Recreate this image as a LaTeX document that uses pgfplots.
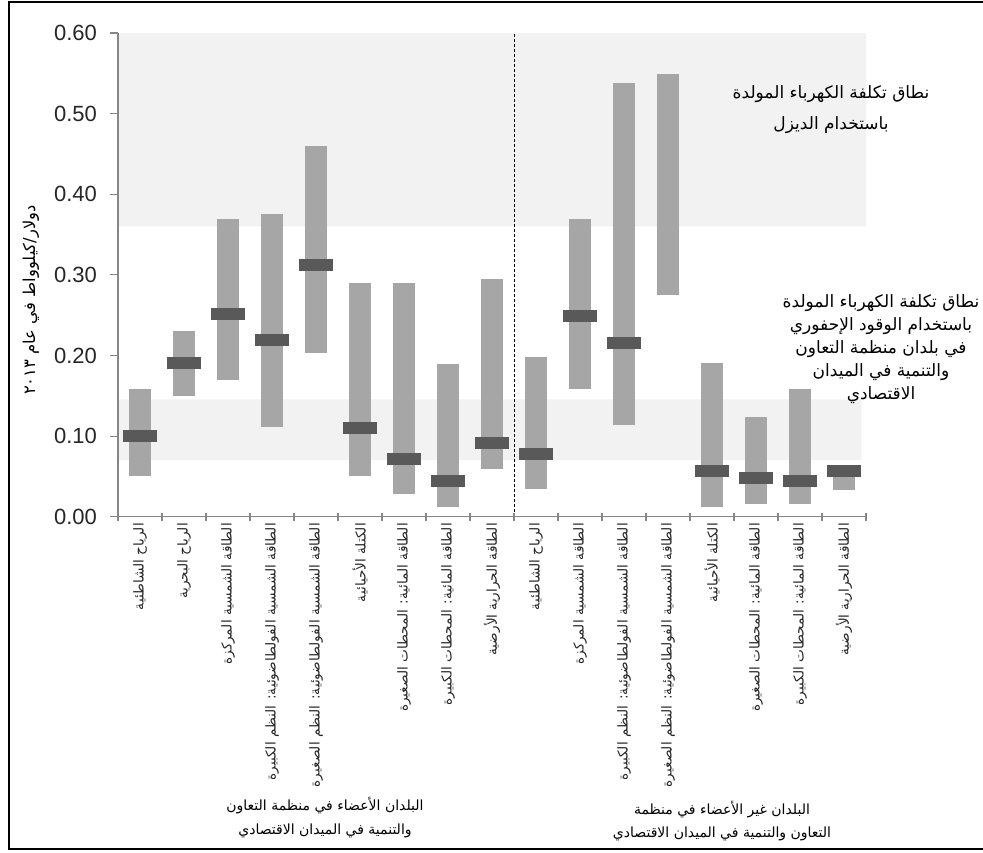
\documentclass[border=0pt]{standalone}
\usepackage{fontspec}
\usepackage{pgfplots}
\pgfplotsset{compat=1.18}
\setmainfont{Liberation Sans}
\newfontfamily\arabicfont[Script=Arabic]{DejaVu Sans}
\TeXXeTstate=1
\definecolor{barGray}{HTML}{A6A6A6}
\definecolor{markGray}{HTML}{595959}
\definecolor{bandGray}{HTML}{F2F2F2}
\definecolor{axisGray}{HTML}{868686}
\definecolor{textGray}{HTML}{262626}
% rounded bar used for the central estimate
\pgfdeclareplotmark{pill}{%
  \pgfsetcornersarced{\pgfpoint{1.6pt}{1.6pt}}%
  \pgfpathrectanglecorners{\pgfpoint{-8.5pt}{-3pt}}{\pgfpoint{8.5pt}{3pt}}%
  \pgfusepathqfill}
% central estimates (USD/kWh)
\pgfplotstableread{
x mark
0 0.100
1 0.191
2 0.251
3 0.219
4 0.312
5 0.110
6 0.0716
7 0.0443
8 0.092
9 0.078
10 0.249
11 0.215
13 0.0567
14 0.0484
15 0.0443
16 0.0567
}\marks
\begin{document}
\begin{tikzpicture}[x=0.5pt,y=-0.5pt]
\begin{axis}[
  at={(59pt,-258.35pt)}, anchor=south west,
  scale only axis, width=374pt, height=241.85pt,
  xmin=-0.5, xmax=16.5, ymin=0, ymax=0.6,
  axis x line*=bottom, axis y line*=left,
  axis line style={axisGray, line width=0.6pt},
  axis on top,
  tick align=outside, major tick length=4pt,
  tick style={axisGray, line width=0.6pt},
  xtick style={yshift=2pt},
  ytick={0,0.1,0.2,0.3,0.4,0.5,0.6},
  yticklabel style={font=\fontsize{11}{13}\selectfont, text=textGray, xshift=-3pt,
    /pgf/number format/.cd, fixed, fixed zerofill, precision=2, assume math mode=true},
  xtick={-0.5,0.5,1.5,2.5,3.5,4.5,5.5,6.5,7.5,8.5,9.5,10.5,11.5,12.5,13.5,14.5,15.5,16.5},
  x tick label as interval,
  xticklabel style={yshift=2pt, rotate=90, anchor=east, inner sep=1pt, text=textGray,
    font=\arabicfont\fontsize{6.8}{8}\selectfont},
  xticklabels={
    {\beginR الرياح الشاطئية\endR},
    {\beginR الرياح البحرية\endR},
    {\beginR الطاقة الشمسية المركزة\endR},
    {\beginR الطاقة الشمسية الفولطاضوئية: النظم الكبيرة\endR},
    {\beginR الطاقة الشمسية الفولطاضوئية: النظم الصغيرة\endR},
    {\beginR الكتلة الأحيائية\endR},
    {\beginR الطاقة المائية: المحطات الصغيرة\endR},
    {\beginR الطاقة المائية: المحطات الكبيرة\endR},
    {\beginR الطاقة الحرارية الأرضية\endR},
    {\beginR الرياح الشاطئية\endR},
    {\beginR الطاقة الشمسية المركزة\endR},
    {\beginR الطاقة الشمسية الفولطاضوئية: النظم الكبيرة\endR},
    {\beginR الطاقة الشمسية الفولطاضوئية: النظم الصغيرة\endR},
    {\beginR الكتلة الأحيائية\endR},
    {\beginR الطاقة المائية: المحطات الصغيرة\endR},
    {\beginR الطاقة المائية: المحطات الكبيرة\endR},
    {\beginR الطاقة الحرارية الأرضية\endR},
    {}},
  clip=false,
]
% cost ranges of diesel and of fossil-fuel generation
\addplot[fill=bandGray, draw=none] coordinates {(-0.5,0.36) (16.5,0.36) (16.5,0.6) (-0.5,0.6) (-0.5,0.36)};
\addplot[fill=bandGray, draw=none] coordinates {(-0.5,0.0703) (16.4,0.0703) (16.4,0.1457) (-0.5,0.1457) (-0.5,0.0703)};
% OECD / non-OECD separator
\addplot[black, line width=0.5pt, dash pattern=on 1.5pt off 1pt] coordinates {(8.5,0) (8.5,0.6)};
% cost ranges per technology
\addplot[barGray, line width=10.85pt, unbounded coords=jump, mark=none] coordinates {
(0,0.050) (0,0.159) (0,nan)
(1,0.150) (1,0.230) (1,nan)
(2,0.170) (2,0.369) (2,nan)
(3,0.111) (3,0.375) (3,nan)
(4,0.2035) (4,0.460) (4,nan)
(5,0.0505) (5,0.290) (5,nan)
(6,0.0278) (6,0.290) (6,nan)
(7,0.0124) (7,0.1894) (7,nan)
(8,0.0588) (8,0.2945) (8,nan)
(9,0.0344) (9,0.1978) (9,nan)
(10,0.159) (10,0.369) (10,nan)
(11,0.1134) (11,0.5385) (11,nan)
(12,0.2754) (12,0.5496) (12,nan)
(13,0.0124) (13,0.191) (13,nan)
(14,0.0154) (14,0.124) (14,nan)
(15,0.0154) (15,0.158) (15,nan)
(16,0.033) (16,0.060)
};
% central estimates
\addplot[only marks, mark=pill, color=markGray] table[x=x, y=mark] {\marks};
\end{axis}
% axis title
\node[rotate=90, text=black, font=\arabicfont\fontsize{8.2}{10}\selectfont] at (31,300)
  {\beginR دولار/كيلوواط في عام ٢٠١٣\endR};
% range annotations
\node[align=center, font=\arabicfont\fontsize{8.5}{15.5}\selectfont] at (831,110)
  {\beginR نطاق تكلفة الكهرباء المولدة\endR\\\beginR باستخدام الديزل\endR};
\node[align=center, font=\arabicfont\fontsize{8.5}{11.5}\selectfont] at (881,349)
  {\beginR نطاق تكلفة الكهرباء المولدة\endR\\\beginR باستخدام الوقود الإحفوري\endR\\\beginR في بلدان منظمة التعاون\endR\\\beginR والتنمية في الميدان\endR\\\beginR الاقتصادي\endR};
% country groups
\node[align=center, font=\arabicfont\fontsize{7}{12}\selectfont] at (325,818)
  {\beginR البلدان الأعضاء في منظمة التعاون\endR\\\beginR والتنمية في الميدان الاقتصادي\endR};
\node[align=center, font=\arabicfont\fontsize{7}{11.5}\selectfont] at (722,821)
  {\beginR البلدان غير الأعضاء في منظمة\endR\\\beginR التعاون والتنمية في الميدان الاقتصادي\endR};
% frame
\draw[black, line width=1pt] (983,1.5) -- (8.5,1.5) -- (8.5,849) -- (983,849);
\pgfresetboundingbox
\useasboundingbox (0,0) rectangle (983,852);
\end{tikzpicture}
\end{document}
